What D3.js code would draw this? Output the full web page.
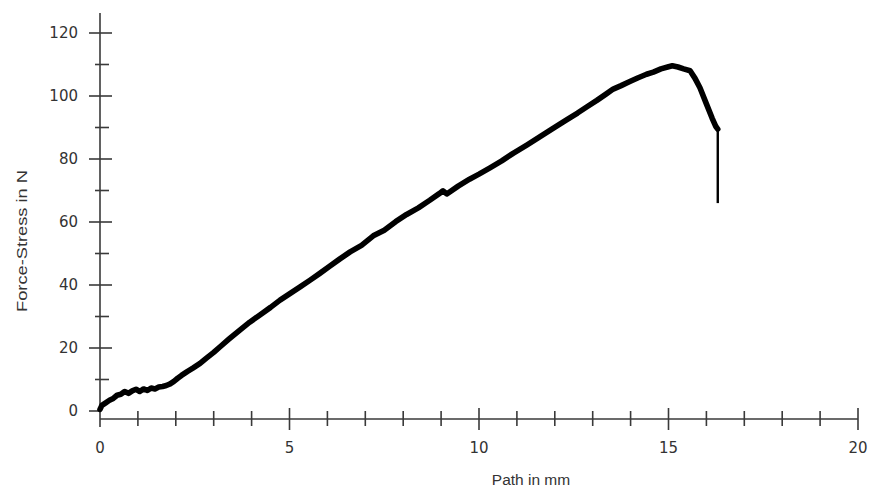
<!DOCTYPE html>
<html>
<head>
<meta charset="utf-8">
<script src="https://cdn.jsdelivr.net/npm/d3@7/dist/d3.min.js"></script>
<style>
  html, body { margin: 0; padding: 0; background: #fff; }
  svg { display: block; }
</style>
</head>
<body>
<svg id="chart" width="870" height="495"></svg>
<script>
// Tensile test record: force against crosshead path
const pathMm = [
  0.00, 0.05, 0.15, 0.25, 0.35, 0.45, 0.55, 0.65, 0.75, 0.85, 0.95, 1.05, 1.15, 1.25,
  1.35, 1.45, 1.55, 1.65, 1.75, 1.85, 1.95, 2.05, 2.15, 2.30, 2.45, 2.64, 2.80, 3.00,
  3.17, 3.40, 3.69, 3.95, 4.22, 4.50, 4.75, 5.00, 5.28, 5.55, 5.80, 6.05, 6.33, 6.60,
  6.90, 7.21, 7.50, 7.80, 8.09, 8.40, 8.70, 8.95, 9.05, 9.15, 9.45, 9.75, 10.00, 10.29,
  10.60, 10.90, 11.26, 11.55, 11.85, 12.10, 12.31, 12.60, 12.85, 13.11, 13.35, 13.54,
  13.75, 13.98, 14.20, 14.42, 14.60, 14.80, 15.00, 15.10, 15.25, 15.40, 15.57, 15.70,
  15.83, 16.00, 16.15, 16.25, 16.30
];
const forceN = [
  0.5, 1.8, 2.6, 3.4, 4.0, 5.0, 5.3, 6.2, 5.6, 6.4, 6.9, 6.2, 7.0, 6.5,
  7.3, 7.0, 7.6, 7.8, 8.1, 8.6, 9.4, 10.4, 11.3, 12.5, 13.6, 15.1, 16.7, 18.6,
  20.4, 22.8, 25.7, 28.2, 30.5, 32.9, 35.2, 37.2, 39.4, 41.6, 43.7, 45.9, 48.3, 50.5,
  52.6, 55.6, 57.4, 60.1, 62.4, 64.5, 66.9, 69.0, 69.9, 68.9, 71.4, 73.6, 75.2, 77.2,
  79.4, 81.8, 84.4, 86.6, 88.9, 90.8, 92.4, 94.6, 96.6, 98.6, 100.6, 102.2,
  103.3, 104.6, 105.8, 106.9, 107.6, 108.6, 109.3, 109.6, 109.2, 108.6, 108.0, 105.6,
  102.6, 97.5, 93.0, 90.3, 89.5
];
// Specimen break: force falls at constant path
const breakPathMm = 16.30;
const breakForceN = [89.5, 66.0];

const xTicksMajor = [0, 5, 10, 15, 20];
const yTicksMajor = [0, 20, 40, 60, 80, 100, 120];

const svg = d3.select("#chart");
const axisColor = "#3a3a3a";

const x = d3.scaleLinear().domain([0, 20]).range([100, 858]);
const y = d3.scaleLinear().domain([0, 120]).range([411, 33]);

const xAxisY = 419;
const yAxisX = x(0);

const g = svg.append("g");

// Axis lines
g.append("line")
  .attr("x1", yAxisX).attr("x2", yAxisX)
  .attr("y1", 13).attr("y2", 427)
  .attr("stroke", axisColor).attr("stroke-width", 1.6);
g.append("line")
  .attr("x1", x(0)).attr("x2", x(20))
  .attr("y1", xAxisY).attr("y2", xAxisY)
  .attr("stroke", axisColor).attr("stroke-width", 1.6);

// Y ticks: major every 20, minor every 10, crossing the axis
const yMinor = d3.range(10, 120, 20);
g.selectAll(".ytick-major").data(yTicksMajor).join("line")
  .attr("x1", yAxisX - 11).attr("x2", d => d === 0 ? yAxisX : yAxisX + 12)
  .attr("y1", d => y(d)).attr("y2", d => y(d))
  .attr("stroke", axisColor).attr("stroke-width", 1.6);
g.selectAll(".ytick-minor").data(yMinor).join("line")
  .attr("x1", yAxisX - 5).attr("x2", yAxisX + 9)
  .attr("y1", d => y(d)).attr("y2", d => y(d))
  .attr("stroke", axisColor).attr("stroke-width", 1.6);

// X ticks: major every 5, minor every 1
const xMinor = d3.range(1, 20).filter(v => v % 5 !== 0);
g.selectAll(".xtick-major").data(xTicksMajor.filter(v => v > 0)).join("line")
  .attr("x1", d => x(d)).attr("x2", d => x(d))
  .attr("y1", xAxisY - 11).attr("y2", xAxisY + 11)
  .attr("stroke", axisColor).attr("stroke-width", 1.6);
g.selectAll(".xtick-minor").data(xMinor).join("line")
  .attr("x1", d => x(d)).attr("x2", d => x(d))
  .attr("y1", xAxisY - 8).attr("y2", xAxisY + 7)
  .attr("stroke", axisColor).attr("stroke-width", 1.6);

// Tick labels
const tickFont = "'DejaVu Sans', sans-serif";
g.selectAll(".ylabel").data(yTicksMajor).join("text")
  .attr("x", 78).attr("y", d => y(d))
  .attr("dy", "0.36em")
  .attr("text-anchor", "end")
  .attr("font-family", tickFont).attr("font-size", 15)
  .attr("fill", "#333")
  .text(d => d);
g.selectAll(".xlabel").data(xTicksMajor).join("text")
  .attr("x", d => x(d)).attr("y", 453)
  .attr("text-anchor", "middle")
  .attr("font-family", tickFont).attr("font-size", 15)
  .attr("fill", "#333")
  .text(d => d);

// Axis titles
const titleFont = "'Liberation Sans', Arial, sans-serif";
svg.append("text")
  .attr("x", 531).attr("y", 485)
  .attr("text-anchor", "middle")
  .attr("font-family", titleFont).attr("font-size", 15.5)
  .attr("fill", "#333")
  .text("Path in mm");
svg.append("text")
  .attr("transform", "translate(27,241) rotate(-90)")
  .attr("text-anchor", "middle")
  .attr("font-family", titleFont).attr("font-size", 15.5)
  .attr("textLength", 142).attr("lengthAdjust", "spacingAndGlyphs")
  .attr("fill", "#333")
  .text("Force-Stress in N");

// Force curve
const pts = pathMm.map((p, i) => [p, forceN[i]]);
const line = d3.line().x(d => x(d[0])).y(d => y(d[1]));
svg.append("path")
  .datum(pts)
  .attr("d", line)
  .attr("fill", "none")
  .attr("stroke", "#000")
  .attr("stroke-width", 5.6)
  .attr("stroke-linejoin", "round")
  .attr("stroke-linecap", "round");

// Break drop
svg.append("path")
  .datum(breakForceN.map(f => [breakPathMm, f]))
  .attr("d", line)
  .attr("fill", "none")
  .attr("stroke", "#000")
  .attr("stroke-width", 2.4);
</script>
</body>
</html>
